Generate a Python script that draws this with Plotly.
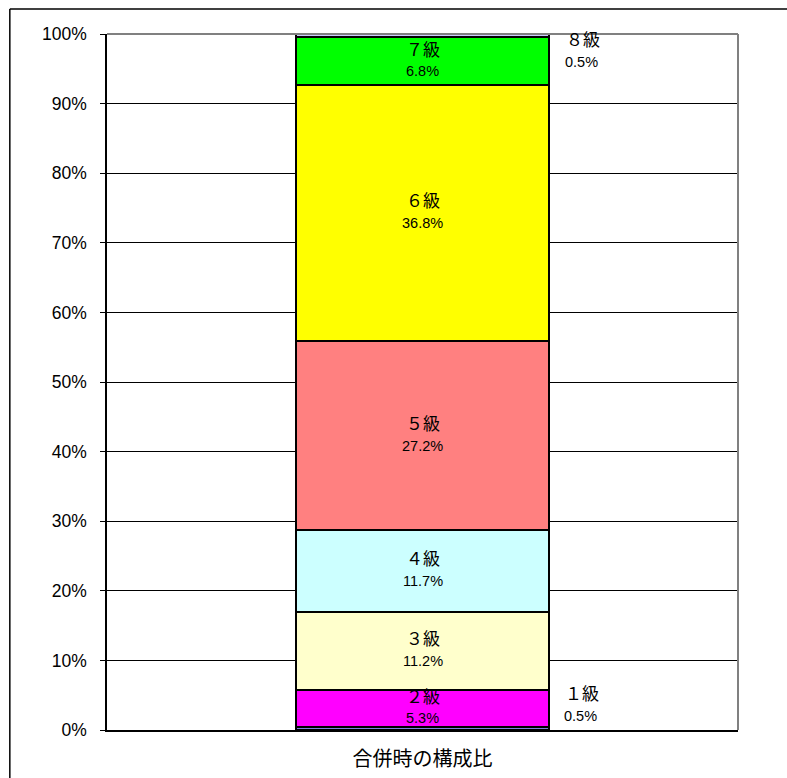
import plotly.graph_objects as go

category = ["合併時の構成比"]
grades = ["１級", "２級", "３級", "４級", "５級", "６級", "７級", "８級"]
shares = [0.5, 5.3, 11.2, 11.7, 27.2, 36.8, 6.8, 0.5]
colors = ["#7f7fdf", "#ff00ff", "#ffffcc", "#ccffff", "#ff8080", "#ffff00", "#00ff00", "#ccccff"]
y_ticks = [0, 10, 20, 30, 40, 50, 60, 70, 80, 90, 100]
y_tick_labels = [f"{v}%" for v in y_ticks]

FONT = "Liberation Sans, Arial, Noto Sans CJK JP, sans-serif"

fig = go.Figure()
for g, v, c in zip(grades, shares, colors):
    fig.add_trace(go.Bar(
        x=category, y=[v], name=g, marker=dict(color=c, line=dict(color="black", width=2)),
        width=0.4, hoverinfo="skip",
    ))

annotations = []
cum = 0
NAME_FONT = dict(size=17, family=FONT, color="black")
PCT_FONT = dict(size=14.5, family=FONT, color="black")
for i, (g, v) in enumerate(zip(grades, shares)):
    mid = cum + v / 2
    if i == 0:
        x, xa, xs, ys_name, ys_pct = 0.2, "left", 14, 34, 12
    elif i == len(grades) - 1:
        x, xa, xs, ys_name, ys_pct = 0.2, "left", 15, -5, -26
    else:
        x, xa, xs, ys_name, ys_pct = 0, "center", 0, 11, -10
    annotations.append(dict(x=x, y=mid, xref="x", yref="y", text=g, showarrow=False,
                            xanchor=xa, yanchor="middle", xshift=xs, yshift=ys_name, font=NAME_FONT))
    annotations.append(dict(x=x, y=mid, xref="x", yref="y", text=f"{v:.1f}%", showarrow=False,
                            xanchor=xa, yanchor="middle", xshift=xs - (1 if xa == "left" else 0),
                            yshift=ys_pct, font=PCT_FONT))
    cum += v

shapes = [
    # outer frame
    dict(type="line", xref="paper", yref="paper", x0=-0.154, x1=1.2, y0=1.036, y1=1.036,
         line=dict(color="black", width=1.5)),
    dict(type="line", xref="paper", yref="paper", x0=-0.154, x1=-0.154, y0=1.036, y1=-0.2,
         line=dict(color="black", width=1.5)),
    # plot area border
    dict(type="line", xref="paper", yref="paper", x0=0, x1=1, y0=1, y1=1,
         line=dict(color="#808080", width=2)),
    dict(type="line", xref="paper", yref="paper", x0=1, x1=1, y0=0, y1=1,
         line=dict(color="#808080", width=2)),
]

fig.update_layout(
    barmode="stack",
    width=787, height=778,
    margin=dict(l=107, r=49, t=34, b=48),
    paper_bgcolor="white", plot_bgcolor="white",
    showlegend=False,
    font=dict(family=FONT, color="black"),
    annotations=annotations,
    shapes=shapes,
    xaxis=dict(range=[-0.5, 0.5], showline=True, linecolor="black", linewidth=1.5,
               tickfont=dict(size=20, family="Noto Sans CJK JP"), ticks="", showgrid=False,
               ticklabelstandoff=10, automargin=False),
    yaxis=dict(range=[0, 100], tickvals=y_ticks, ticktext=y_tick_labels,
               showline=True, linecolor="black", linewidth=1.5, ticks="outside", ticklen=5,
               tickcolor="black", showgrid=True, gridcolor="black", gridwidth=1,
               tickfont=dict(size=17.5), zeroline=False, ticklabelstandoff=10,
               automargin=False),
)

fig.write_html("out.html")
